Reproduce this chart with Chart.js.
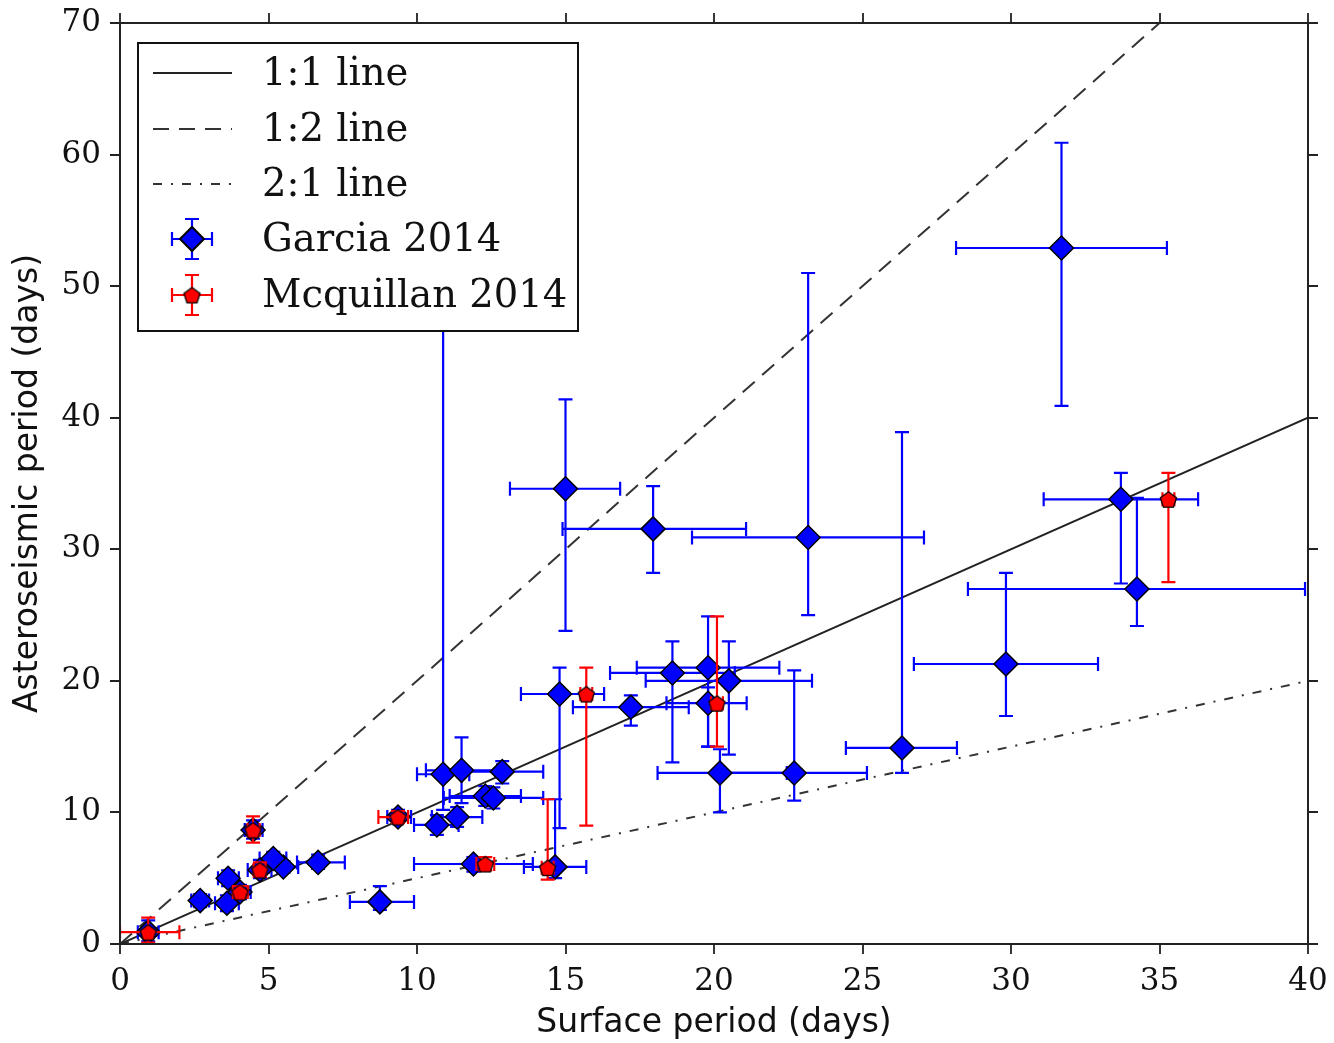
<!DOCTYPE html>
<html>
<head>
<meta charset="utf-8">
<script src="https://cdn.jsdelivr.net/npm/chart.js@4.4.1/dist/chart.umd.min.js"></script>
<style>
  html, body { margin: 0; padding: 0; background: #fff; }
</style>
</head>
<body>
<canvas id="myChart" width="1334" height="1043"></canvas>
<script>
// Garcia 2014: surface period vs asteroseismic period, with error ranges
let garciaX    = [31.7, 15.0, 17.95, 23.17, 33.7, 34.24, 29.83, 26.33, 22.7, 20.2, 20.5, 19.8, 18.6, 19.8, 17.2, 14.8, 10.88, 11.5, 12.87, 12.3, 12.57, 11.35, 10.67, 11.9, 14.65, 9.36, 8.75, 6.67, 5.5, 5.16, 4.71, 4.48, 4.04, 3.64, 3.6, 2.7, 0.95];
let garciaY    = [52.9, 34.6, 31.55, 30.9, 33.8, 26.98, 21.28, 14.9, 13.0, 13.0, 20.0, 21.0, 20.6, 18.3, 18.0, 19.0, 12.9, 13.2, 13.1, 11.25, 11.1, 9.65, 9.05, 6.08, 5.86, 9.65, 3.2, 6.2, 5.85, 6.5, 5.62, 8.66, 3.95, 5.0, 3.1, 3.3, 0.9];
let garciaXMin = [28.15, 13.13, 14.9, 19.26, 31.1, 28.55, 26.73, 24.44, 20.25, 18.1, 17.7, 17.4, 16.5, 18.4, 15.25, 13.5, 10.0, 10.3, 11.5, 11.1, 10.9, 10.5, 9.9, 9.9, 13.6, 9.0, 7.74, 5.96, 5.0, 4.7, 4.3, 4.2, 3.7, 3.3, 3.2, 2.4, 0.6];
let garciaXMax = [35.25, 16.84, 21.08, 27.07, 36.3, 39.9, 32.93, 28.18, 25.15, 22.45, 23.3, 22.2, 20.7, 21.1, 19.15, 16.3, 11.76, 12.7, 14.25, 13.5, 14.25, 12.2, 11.4, 13.9, 15.7, 9.8, 9.9, 7.57, 6.0, 5.6, 5.1, 4.8, 4.4, 4.0, 4.0, 3.0, 1.3];
let garciaYMin = [40.9, 23.8, 28.2, 25.0, 27.4, 24.17, 17.33, 13.0, 10.9, 10.0, 14.4, 15.0, 13.8, 15.0, 16.6, 8.8, 10.2, 10.7, 12.2, 10.5, 10.3, 8.9, 8.3, 5.5, 5.0, 9.2, 2.6, 5.7, 5.4, 6.0, 5.0, 8.0, 3.4, 4.4, 2.5, 2.8, 0.2];
let garciaYMax = [60.9, 41.4, 34.8, 51.0, 35.8, 33.9, 28.2, 38.9, 20.8, 14.8, 23.0, 24.9, 23.0, 19.5, 18.9, 21.0, 47.0, 15.7, 13.9, 12.0, 11.9, 10.4, 9.8, 6.6, 11.0, 10.2, 4.4, 6.8, 6.3, 7.0, 6.4, 9.4, 4.5, 5.6, 3.7, 3.8, 1.8];

// Mcquillan 2014
let mcqX    = [35.3, 20.1, 15.7, 14.4, 12.3, 9.36, 4.48, 4.71, 4.04, 0.95];
let mcqY    = [33.8, 18.3, 19.0, 5.8, 6.08, 9.65, 8.66, 5.62, 3.95, 0.9];
let mcqXMin = [35.1, 19.9, 15.5, 14.2, 12.0, 8.7, 4.3, 4.5, 3.8, 0.0];
let mcqXMax = [35.5, 20.3, 15.9, 14.6, 12.6, 9.7, 4.7, 4.9, 4.3, 2.0];
let mcqYMin = [27.5, 15.0, 9.0, 4.9, 5.6, 9.2, 7.7, 5.1, 3.5, 0.1];
let mcqYMax = [35.8, 24.9, 21.0, 11.0, 6.6, 10.1, 9.7, 6.2, 4.4, 2.0];

// reference lines
let refX    = [0, 40];
let line11Y = [0, 40];
let line12Y = [0, 80];
let line21Y = [0, 20];

let xTickValues = [0, 5, 10, 15, 20, 25, 30, 35, 40];
let yTickValues = [0, 10, 20, 30, 40, 50, 60, 70];

const serif = "'DejaVu Serif', 'Liberation Serif', serif";
const sans = "'DejaVu Sans', 'Noto Sans', sans-serif";

function points(xs, ys, xMin, xMax, yMin, yMax) {
    return xs.map((x, i) => ({ x: x, y: ys[i], xMin: xMin[i], xMax: xMax[i], yMin: yMin[i], yMax: yMax[i] }));
}
function linePoints(ys) {
    return refX.map((x, i) => ({ x: x, y: ys[i] }));
}

// pentagon marker for the Mcquillan points
function makePentagon(r) {
    let c = document.createElement('canvas');
    let s = Math.ceil(2 * r + 4);
    c.width = s; c.height = s;
    let g = c.getContext('2d');
    g.beginPath();
    for (let i = 0; i < 5; i++) {
        let a = -Math.PI / 2 + i * 2 * Math.PI / 5;
        g.lineTo(s / 2 + r * Math.cos(a), s / 2 + 1 + r * Math.sin(a));
    }
    g.closePath();
    g.fillStyle = '#ff0000';
    g.fill();
    g.lineWidth = 1.3;
    g.strokeStyle = '#000';
    g.stroke();
    return c;
}
let pentagon = makePentagon(8.5);

const CAP = 7;

function drawErrorBar(ctx, px, py, x0, x1, y0, y1) {
    ctx.beginPath();
    ctx.moveTo(x0, py); ctx.lineTo(x1, py);
    ctx.moveTo(px, y0); ctx.lineTo(px, y1);
    ctx.moveTo(x0, py - CAP); ctx.lineTo(x0, py + CAP);
    ctx.moveTo(x1, py - CAP); ctx.lineTo(x1, py + CAP);
    ctx.moveTo(px - CAP, y0); ctx.lineTo(px + CAP, y0);
    ctx.moveTo(px - CAP, y1); ctx.lineTo(px + CAP, y1);
    ctx.stroke();
}

// error bars go under each scatter dataset's markers
const errorBars = {
    id: 'errorBars',
    beforeDatasetDraw(chart, args) {
        let ds = chart.data.datasets[args.index];
        if (!ds.errColor) return;
        let ctx = chart.ctx, xs = chart.scales.x, ys = chart.scales.y, area = chart.chartArea;
        ctx.save();
        ctx.beginPath();
        ctx.rect(area.left, area.top, area.right - area.left, area.bottom - area.top);
        ctx.clip();
        ctx.strokeStyle = ds.errColor;
        ctx.lineWidth = 2.2;
        ds.data.forEach(p => {
            drawErrorBar(ctx,
                xs.getPixelForValue(p.x), ys.getPixelForValue(p.y),
                xs.getPixelForValue(p.xMin), xs.getPixelForValue(p.xMax),
                ys.getPixelForValue(p.yMin), ys.getPixelForValue(p.yMax));
        });
        ctx.restore();
    }
};

// frame with outward ticks on all four sides
const frame = {
    id: 'frame',
    afterDraw(chart) {
        let ctx = chart.ctx, a = chart.chartArea, xs = chart.scales.x, ys = chart.scales.y;
        ctx.save();
        ctx.strokeStyle = '#222';
        ctx.lineWidth = 2;
        ctx.strokeRect(a.left, a.top, a.right - a.left, a.bottom - a.top);
        ctx.lineWidth = 1.8;
        ctx.beginPath();
        xTickValues.forEach(v => {
            let p = Math.round(xs.getPixelForValue(v));
            ctx.moveTo(p, a.bottom); ctx.lineTo(p, a.bottom + 10);
            ctx.moveTo(p, a.top); ctx.lineTo(p, a.top - 10);
        });
        yTickValues.forEach(v => {
            let p = Math.round(ys.getPixelForValue(v));
            ctx.moveTo(a.left, p); ctx.lineTo(a.left - 10, p);
            ctx.moveTo(a.right, p); ctx.lineTo(a.right + 10, p);
        });
        ctx.stroke();
        ctx.restore();
    }
};

// boxed legend in the upper left corner
const legendBox = {
    id: 'legendBox',
    afterDraw(chart) {
        let ctx = chart.ctx;
        let ds = chart.data.datasets;
        let left = 138, top = 43, w = 440, h = 288;
        ctx.save();
        ctx.fillStyle = '#fff';
        ctx.fillRect(left, top, w, h);
        ctx.strokeStyle = '#111';
        ctx.lineWidth = 2;
        ctx.strokeRect(left, top, w, h);
        ctx.font = '38.5px ' + serif;
        ctx.fillStyle = '#111';
        ctx.textBaseline = 'middle';
        let rows = [73, 129, 184, 239, 295];
        ds.forEach((d, i) => {
            let y = rows[i];
            ctx.fillText(d.label, 262, y + 2);
            if (d.type === 'line') {
                ctx.save();
                ctx.strokeStyle = d.borderColor;
                ctx.lineWidth = d.borderWidth;
                ctx.setLineDash(d.borderDash || []);
                ctx.beginPath();
                ctx.moveTo(153, y); ctx.lineTo(232, y);
                ctx.stroke();
                ctx.restore();
            } else {
                ctx.save();
                ctx.strokeStyle = d.errColor;
                ctx.lineWidth = 2.2;
                drawErrorBar(ctx, 192, y, 172, 212, y + 20, y - 20);
                ctx.restore();
                ctx.save();
                ctx.fillStyle = d.backgroundColor;
                ctx.strokeStyle = d.borderColor;
                Chart.helpers.drawPoint(ctx, {
                    pointStyle: d.pointStyle, radius: d.pointRadius, rotation: 0,
                    borderWidth: d.borderWidth
                }, 192, y);
                ctx.restore();
            }
        });
        ctx.restore();
    }
};

let myChart = document.getElementById('myChart').getContext('2d');

let chart = new Chart(myChart, {
    type: 'scatter',
    data: {
        datasets: [
            {
                type: 'line', label: '1:1 line', data: linePoints(line11Y),
                borderColor: '#222', borderWidth: 2, pointRadius: 0, order: 3
            },
            {
                type: 'line', label: '1:2 line', data: linePoints(line12Y),
                borderColor: '#333', borderWidth: 2, borderDash: [16, 10], pointRadius: 0, order: 3
            },
            {
                type: 'line', label: '2:1 line', data: linePoints(line21Y),
                borderColor: '#333', borderWidth: 2, borderDash: [9, 9, 2, 9], pointRadius: 0, order: 3
            },
            {
                label: 'Garcia 2014',
                data: points(garciaX, garciaY, garciaXMin, garciaXMax, garciaYMin, garciaYMax),
                pointStyle: 'rectRot', pointRadius: 12, pointHoverRadius: 12,
                backgroundColor: '#0000ff', borderColor: '#000', borderWidth: 1.5,
                errColor: '#0000ff', order: 2
            },
            {
                label: 'Mcquillan 2014',
                data: points(mcqX, mcqY, mcqXMin, mcqXMax, mcqYMin, mcqYMax),
                pointStyle: pentagon, pointRadius: 9, pointHoverRadius: 9,
                backgroundColor: '#ff0000', borderColor: '#000', borderWidth: 1.3,
                errColor: '#ff0000', order: 1
            }
        ]
    },
    options: {
        responsive: false,
        animation: false,
        events: [],
        layout: { padding: { top: 23, right: 26, left: 0, bottom: 0 } },
        plugins: {
            legend: { display: false },
            tooltip: { enabled: false }
        },
        scales: {
            x: {
                type: 'linear', min: 0, max: 40,
                afterBuildTicks: s => { s.ticks = xTickValues.map(v => ({ value: v })); },
                ticks: { font: { family: serif, size: 31 }, color: '#111', padding: 19, maxRotation: 0 },
                grid: { display: false, drawTicks: false },
                border: { display: false },
                title: {
                    display: true, text: 'Surface period (days)', color: '#111',
                    font: { family: sans, size: 33 }, padding: { top: 0, bottom: 0 }
                },
                afterFit: s => { s.height = 99; s.paddingLeft = 0; s.paddingRight = 0; }
            },
            y: {
                type: 'linear', min: 0, max: 70,
                afterBuildTicks: s => { s.ticks = yTickValues.map(v => ({ value: v })); },
                ticks: { font: { family: serif, size: 31 }, color: '#111', padding: 19 },
                grid: { display: false, drawTicks: false },
                border: { display: false },
                title: {
                    display: true, text: 'Asteroseismic period (days)', color: '#111',
                    font: { family: sans, size: 33 }, padding: { top: 9, bottom: 0 }
                },
                afterFit: s => { s.width = 120; s.paddingTop = 0; s.paddingBottom = 0; }
            }
        }
    },
    plugins: [errorBars, frame, legendBox]
});
</script>
</body>
</html>
